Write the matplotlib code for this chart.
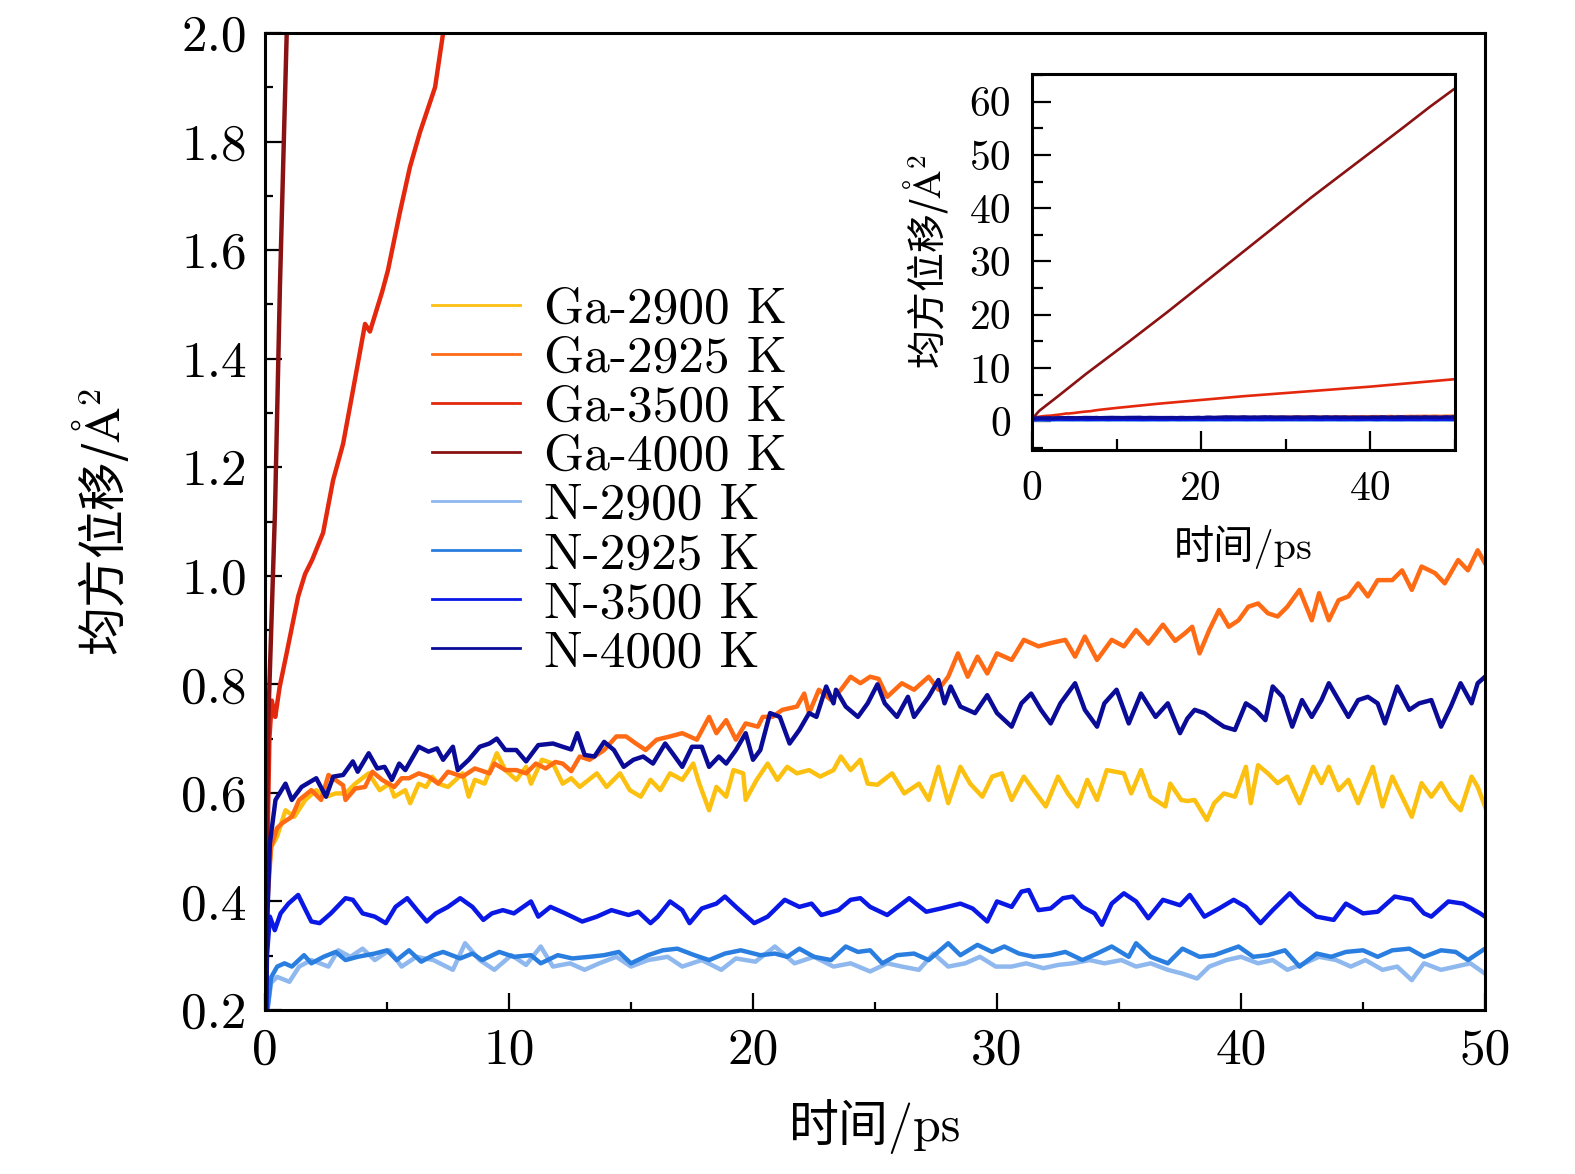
"""Mean square displacement of Ga and N atoms at several temperatures."""

import numpy as np
import matplotlib
matplotlib.use("Agg")
import matplotlib.pyplot as plt
from matplotlib.ticker import MultipleLocator, FormatStrFormatter

plt.rcParams["font.family"] = ["cmr10", "DejaVu Serif", "Noto Sans CJK SC"]
plt.rcParams["axes.unicode_minus"] = False
plt.rcParams["mathtext.fontset"] = "cm"

# (time / ps, MSD / A^2)
GA2900 = [(0, 0.0), (0.1, 0.42), (0.25, 0.5), (0.49, 0.519), (0.84, 0.568), (1.2, 0.556), (1.65, 0.587),
          (2.1, 0.605), (2.5, 0.593), (2.9, 0.599), (3.3, 0.599), (3.7, 0.617), (4.25, 0.636), (4.7, 0.605),
          (5.1, 0.617), (5.3, 0.593), (5.75, 0.605), (5.95, 0.581), (6.3, 0.617), (6.6, 0.611), (6.85, 0.63),
          (7.1, 0.617), (7.5, 0.611), (8.1, 0.636), (8.35, 0.593), (8.6, 0.624), (9.0, 0.617), (9.5, 0.673),
          (9.85, 0.642), (10.3, 0.624), (10.7, 0.648), (10.9, 0.617), (11.35, 0.661), (11.8, 0.654),
          (12.2, 0.617), (12.55, 0.627), (12.9, 0.611), (13.6, 0.636), (14.0, 0.611), (14.55, 0.636),
          (14.95, 0.605), (15.4, 0.593), (15.8, 0.624), (16.2, 0.605), (16.6, 0.636), (17.1, 0.624),
          (17.55, 0.654), (17.8, 0.617), (18.2, 0.568), (18.5, 0.611), (18.9, 0.593), (19.2, 0.642),
          (19.6, 0.636), (19.7, 0.587), (20.15, 0.624), (20.6, 0.654), (21.0, 0.624), (21.4, 0.648),
          (21.8, 0.636), (22.3, 0.642), (22.75, 0.63), (23.3, 0.642), (23.6, 0.667), (24.0, 0.642),
          (24.4, 0.661), (24.7, 0.617), (25.1, 0.615), (25.7, 0.636), (26.2, 0.599), (26.8, 0.617),
          (27.2, 0.587), (27.6, 0.648), (28.0, 0.581), (28.5, 0.648), (28.9, 0.617), (29.4, 0.593),
          (29.8, 0.63), (30.2, 0.636), (30.6, 0.587), (31.1, 0.63), (31.5, 0.605), (32.0, 0.575),
          (32.5, 0.63), (32.9, 0.599), (33.3, 0.575), (33.7, 0.624), (34.1, 0.587), (34.5, 0.642),
          (35.2, 0.636), (35.5, 0.599), (35.9, 0.642), (36.3, 0.593), (36.9, 0.575), (37.1, 0.617),
          (37.55, 0.587), (37.8, 0.585), (38.1, 0.587), (38.6, 0.55), (38.9, 0.581), (39.3, 0.599),
          (39.75, 0.593), (40.2, 0.648), (40.4, 0.581), (40.7, 0.651), (41.1, 0.636), (41.5, 0.618),
          (41.9, 0.63), (42.4, 0.581), (42.96, 0.648), (43.3, 0.618), (43.6, 0.648), (44.0, 0.605),
          (44.4, 0.624), (44.8, 0.581), (45.4, 0.648), (45.8, 0.575), (46.2, 0.63), (46.6, 0.593),
          (47.0, 0.556), (47.4, 0.618), (47.8, 0.593), (48.2, 0.618), (48.6, 0.587), (49.0, 0.568),
          (49.45, 0.63), (49.7, 0.611), (50.0, 0.575)]

GA2925 = [(0, 0.0), (0.1, 0.4), (0.25, 0.5), (0.49, 0.535), (0.7, 0.544), (1.1, 0.556), (1.4, 0.587),
          (1.9, 0.605), (2.3, 0.587), (2.6, 0.633), (3.2, 0.614), (3.3, 0.587), (3.7, 0.608), (4.1, 0.611),
          (4.4, 0.639), (4.8, 0.624), (5.3, 0.611), (5.6, 0.627), (5.9, 0.627), (6.3, 0.636), (6.7, 0.63),
          (7.1, 0.617), (7.5, 0.639), (8.1, 0.63), (8.6, 0.645), (9.2, 0.636), (9.4, 0.654), (9.85, 0.642),
          (10.3, 0.642), (10.7, 0.636), (11.1, 0.654), (11.5, 0.645), (11.9, 0.657), (12.2, 0.654),
          (12.55, 0.64), (12.9, 0.667), (13.3, 0.661), (13.9, 0.679), (14.4, 0.704), (14.8, 0.704),
          (15.2, 0.691), (15.6, 0.679), (16.05, 0.698), (16.6, 0.704), (17.1, 0.71), (17.7, 0.698),
          (18.2, 0.74), (18.5, 0.71), (18.9, 0.734), (19.3, 0.698), (19.7, 0.728), (20.2, 0.722),
          (20.4, 0.74), (20.8, 0.74), (21.2, 0.753), (21.8, 0.759), (22.1, 0.783), (22.3, 0.747),
          (22.7, 0.79), (23.2, 0.771), (23.6, 0.79), (24.0, 0.814), (24.4, 0.802), (24.8, 0.814),
          (25.15, 0.81), (25.5, 0.777), (26.1, 0.802), (26.6, 0.79), (27.2, 0.814), (27.6, 0.79),
          (28.0, 0.814), (28.4, 0.857), (28.8, 0.814), (29.2, 0.851), (29.6, 0.82), (30.0, 0.857),
          (30.6, 0.845), (31.1, 0.882), (31.7, 0.87), (32.2, 0.876), (32.8, 0.882), (33.2, 0.851),
          (33.6, 0.888), (34.1, 0.845), (34.7, 0.882), (35.2, 0.87), (35.7, 0.9), (36.2, 0.875),
          (36.8, 0.91), (37.3, 0.88), (37.7, 0.894), (38.0, 0.906), (38.3, 0.857), (38.7, 0.9),
          (39.1, 0.937), (39.5, 0.906), (39.9, 0.918), (40.3, 0.943), (40.7, 0.949), (41.1, 0.931),
          (41.5, 0.925), (41.9, 0.943), (42.4, 0.974), (42.9, 0.918), (43.2, 0.968), (43.6, 0.918),
          (44.0, 0.955), (44.4, 0.962), (44.8, 0.986), (45.2, 0.962), (45.6, 0.992), (46.2, 0.992),
          (46.6, 1.01), (47.0, 0.974), (47.4, 1.017), (47.95, 1.005), (48.35, 0.986), (48.9, 1.029),
          (49.3, 1.01), (49.7, 1.047), (50.0, 1.023)]

GA3500 = [(0, 0.0), (0.08, 0.45), (0.18, 0.7), (0.28, 0.77), (0.36, 0.75), (0.42, 0.74), (0.6, 0.795),
          (0.89, 0.858), (1.16, 0.918), (1.36, 0.962), (1.64, 1.003), (1.93, 1.029), (2.38, 1.079),
          (2.79, 1.176), (3.2, 1.243), (3.57, 1.333), (4.1, 1.464), (4.3, 1.45), (4.8, 1.523),
          (5.04, 1.563), (5.53, 1.67), (5.94, 1.753), (6.35, 1.817), (6.97, 1.9), (7.3, 2.0), (8.0, 2.15),
          (10, 2.5), (15, 3.3), (20, 4.0), (25, 4.7), (30, 5.3), (35, 5.9), (40, 6.5), (45, 7.2),
          (50, 7.9)]

GA4000 = [(0, 0.0), (0.05, 0.45), (0.14, 0.74), (0.41, 1.12), (0.61, 1.53), (0.89, 2.0), (3, 4.6),
          (6.4, 8.9), (11.5, 15.0), (16, 20.5), (19.8, 25.3), (24, 30.6), (28.9, 36.8), (33, 42.0),
          (37.8, 47.8), (40.7, 51.3), (44, 55.3), (47, 59.0), (50, 62.5)]

N2900 = [(0, 0.0), (0.1, 0.2), (0.25, 0.25), (0.5, 0.261), (1.0, 0.252), (1.4, 0.28), (1.9, 0.292),
         (2.6, 0.28), (3.0, 0.31), (3.5, 0.298), (4.0, 0.313), (4.5, 0.292), (5.1, 0.31), (5.6, 0.28),
         (6.2, 0.298), (6.9, 0.292), (7.7, 0.274), (8.2, 0.323), (8.8, 0.292), (9.4, 0.274), (10.1, 0.301),
         (10.7, 0.283), (11.3, 0.317), (11.8, 0.28), (12.5, 0.286), (13.1, 0.274), (13.7, 0.286),
         (14.4, 0.298), (15.0, 0.28), (15.7, 0.292), (16.5, 0.298), (17.1, 0.28), (17.9, 0.292),
         (18.7, 0.274), (19.3, 0.295), (20.1, 0.289), (20.9, 0.317), (21.7, 0.286), (22.5, 0.298),
         (23.3, 0.28), (24.0, 0.286), (24.8, 0.271), (25.5, 0.286), (26.1, 0.28), (26.8, 0.274),
         (27.4, 0.304), (28.0, 0.28), (28.7, 0.286), (29.3, 0.298), (29.95, 0.28), (30.6, 0.28),
         (31.2, 0.286), (31.9, 0.277), (32.5, 0.283), (33.1, 0.286), (33.8, 0.292), (34.4, 0.286),
         (35.1, 0.292), (35.7, 0.28), (36.3, 0.286), (37.0, 0.274), (37.6, 0.267), (38.2, 0.258),
         (38.7, 0.28), (39.4, 0.292), (40.0, 0.298), (40.7, 0.286), (41.3, 0.292), (41.9, 0.274),
         (42.6, 0.286), (43.2, 0.298), (43.9, 0.292), (44.5, 0.28), (45.1, 0.292), (45.8, 0.274),
         (46.4, 0.28), (47.0, 0.255), (47.5, 0.286), (48.2, 0.274), (48.8, 0.28), (49.4, 0.286),
         (50.0, 0.267)]

N2925 = [(0, 0.0), (0.1, 0.2), (0.25, 0.26), (0.5, 0.28), (0.8, 0.286), (1.1, 0.28), (1.6, 0.301),
         (1.9, 0.286), (2.4, 0.298), (2.9, 0.307), (3.3, 0.292), (3.8, 0.298), (4.5, 0.304), (5.0, 0.31),
         (5.4, 0.292), (5.9, 0.31), (6.4, 0.289), (6.9, 0.301), (7.3, 0.307), (8.0, 0.295), (8.5, 0.304),
         (8.9, 0.292), (9.6, 0.307), (10.2, 0.298), (10.9, 0.301), (11.3, 0.286), (12.0, 0.301),
         (12.6, 0.295), (13.3, 0.298), (13.9, 0.301), (14.5, 0.307), (15.0, 0.286), (15.7, 0.301),
         (16.3, 0.31), (16.9, 0.313), (17.6, 0.301), (18.2, 0.292), (18.85, 0.304), (19.5, 0.31),
         (20.3, 0.301), (20.9, 0.304), (21.4, 0.298), (21.9, 0.313), (22.5, 0.298), (23.2, 0.292),
         (23.8, 0.317), (24.3, 0.307), (24.8, 0.31), (25.3, 0.286), (25.9, 0.301), (26.6, 0.304),
         (27.2, 0.292), (28.0, 0.323), (28.5, 0.301), (29.2, 0.32), (29.8, 0.307), (30.3, 0.317),
         (30.9, 0.304), (31.5, 0.298), (32.2, 0.301), (32.8, 0.307), (33.5, 0.292), (34.1, 0.304),
         (34.7, 0.317), (35.4, 0.298), (35.7, 0.323), (36.3, 0.298), (37.0, 0.286), (37.6, 0.313),
         (38.3, 0.298), (38.9, 0.301), (39.9, 0.317), (40.5, 0.298), (41.1, 0.301), (41.8, 0.31),
         (42.4, 0.28), (43.1, 0.304), (43.7, 0.298), (44.3, 0.307), (45.0, 0.31), (45.6, 0.298),
         (46.2, 0.31), (46.9, 0.313), (47.5, 0.298), (48.2, 0.31), (48.8, 0.307), (49.3, 0.292),
         (50.0, 0.313)]

N3500 = [(0, 0.0), (0.08, 0.3), (0.2, 0.372), (0.4, 0.347), (0.64, 0.378), (0.96, 0.396), (1.36, 0.412),
         (1.6, 0.39), (1.9, 0.363), (2.24, 0.36), (2.7, 0.378), (3.3, 0.406), (3.6, 0.403), (4.0, 0.378),
         (4.5, 0.372), (4.95, 0.36), (5.35, 0.39), (5.83, 0.406), (6.23, 0.384), (6.63, 0.363),
         (7.0, 0.378), (7.5, 0.39), (8.0, 0.406), (8.5, 0.39), (8.95, 0.366), (9.3, 0.378), (9.75, 0.384),
         (10.2, 0.378), (10.9, 0.4), (11.2, 0.372), (11.7, 0.39), (12.3, 0.378), (13.0, 0.363),
         (13.6, 0.372), (14.2, 0.384), (14.9, 0.375), (15.3, 0.381), (15.8, 0.36), (16.1, 0.372),
         (16.6, 0.4), (17.1, 0.384), (17.4, 0.36), (17.9, 0.387), (18.5, 0.396), (18.85, 0.409),
         (19.3, 0.39), (20.05, 0.36), (20.6, 0.372), (21.3, 0.403), (21.9, 0.39), (22.4, 0.396),
         (22.8, 0.375), (23.5, 0.384), (24.0, 0.403), (24.4, 0.406), (24.8, 0.39), (25.5, 0.375),
         (26.4, 0.406), (27.1, 0.381), (27.7, 0.387), (28.5, 0.396), (29.0, 0.387), (29.6, 0.363),
         (30.0, 0.4), (30.6, 0.39), (31.0, 0.418), (31.3, 0.421), (31.7, 0.384), (32.2, 0.387),
         (32.7, 0.406), (33.1, 0.409), (33.5, 0.39), (34.0, 0.378), (34.3, 0.357), (34.7, 0.396),
         (35.2, 0.415), (35.7, 0.4), (36.2, 0.369), (36.8, 0.403), (37.5, 0.393), (37.9, 0.412),
         (38.5, 0.372), (39.1, 0.387), (39.7, 0.403), (40.2, 0.39), (40.8, 0.36), (41.3, 0.384),
         (42.0, 0.415), (42.4, 0.396), (43.1, 0.372), (43.8, 0.366), (44.3, 0.396), (45.0, 0.378),
         (45.6, 0.381), (46.3, 0.409), (47.0, 0.403), (47.5, 0.378), (47.8, 0.372), (48.5, 0.4),
         (49.1, 0.396), (49.8, 0.378), (50.0, 0.372)]

N4000 = [(0, 0.0), (0.08, 0.35), (0.2, 0.507), (0.43, 0.587), (0.84, 0.617), (1.1, 0.587), (1.5, 0.611),
         (2.1, 0.627), (2.5, 0.593), (2.8, 0.63), (3.2, 0.633), (3.6, 0.658), (3.8, 0.639), (4.25, 0.673),
         (4.6, 0.645), (4.9, 0.648), (5.2, 0.624), (5.5, 0.654), (5.75, 0.642), (6.3, 0.685), (6.7, 0.676),
         (7.05, 0.682), (7.3, 0.661), (7.7, 0.685), (7.9, 0.642), (8.35, 0.661), (8.8, 0.685), (9.2, 0.691),
         (9.5, 0.7), (9.85, 0.679), (10.3, 0.679), (10.7, 0.658), (11.2, 0.688), (11.8, 0.691),
         (12.2, 0.685), (12.55, 0.68), (12.8, 0.71), (13.1, 0.67), (13.5, 0.667), (13.9, 0.694),
         (14.3, 0.679), (14.7, 0.648), (15.1, 0.661), (15.5, 0.667), (15.9, 0.654), (16.4, 0.691),
         (16.7, 0.673), (17.1, 0.648), (17.5, 0.685), (17.9, 0.685), (18.2, 0.648), (18.6, 0.667),
         (18.9, 0.654), (19.3, 0.679), (19.7, 0.71), (20.0, 0.661), (20.3, 0.679), (20.7, 0.747),
         (21.1, 0.74), (21.5, 0.691), (21.9, 0.716), (22.3, 0.747), (22.6, 0.74), (23.0, 0.796),
         (23.3, 0.765), (23.4, 0.79), (23.8, 0.759), (24.3, 0.74), (24.7, 0.765), (25.1, 0.8),
         (25.4, 0.765), (25.9, 0.74), (26.35, 0.777), (26.6, 0.74), (27.2, 0.777), (27.6, 0.808),
         (27.85, 0.765), (28.1, 0.796), (28.5, 0.759), (29.1, 0.747), (29.6, 0.78), (30.0, 0.747),
         (30.6, 0.722), (31.0, 0.765), (31.4, 0.783), (31.8, 0.753), (32.2, 0.728), (32.6, 0.765),
         (33.2, 0.802), (33.6, 0.753), (34.1, 0.722), (34.4, 0.765), (34.9, 0.79), (35.4, 0.728),
         (35.9, 0.783), (36.5, 0.74), (37.0, 0.765), (37.5, 0.71), (37.8, 0.737), (38.1, 0.753),
         (38.5, 0.747), (38.9, 0.734), (39.3, 0.722), (39.75, 0.716), (40.2, 0.765), (40.6, 0.753),
         (41.0, 0.734), (41.3, 0.796), (41.7, 0.777), (42.1, 0.722), (42.5, 0.771), (42.9, 0.74),
         (43.3, 0.771), (43.6, 0.802), (44.0, 0.771), (44.4, 0.74), (44.8, 0.771), (45.2, 0.777),
         (45.6, 0.765), (45.9, 0.728), (46.4, 0.796), (46.9, 0.753), (47.3, 0.765), (47.8, 0.771),
         (48.2, 0.722), (48.6, 0.759), (49.0, 0.802), (49.45, 0.765), (49.7, 0.802), (50.0, 0.814)]

labels = ["Ga-2900 K", "Ga-2925 K", "Ga-3500 K", "Ga-4000 K",
          "N-2900 K", "N-2925 K", "N-3500 K", "N-4000 K"]
series = [GA2900, GA2925, GA3500, GA4000, N2900, N2925, N3500, N4000]
colors = ["#FCC010", "#FF6A14", "#E4280E", "#8A1212",
          "#8EB8EE", "#2A7EE0", "#0A18E6", "#0A0C98"]

W, H = 1575, 1174
fig = plt.figure(figsize=(W / 100, H / 100), dpi=100)
ax = fig.add_axes([265 / W, 1 - 1010 / H, 1220 / W, 977 / H])
ins = fig.add_axes([1032 / W, 1 - 450 / H, 423 / W, 376 / H])

for data, lab, c in zip(series, labels, colors):
    t, v = np.array(data).T
    ax.plot(t, v, color=c, lw=3.2, label=lab)
    ins.plot(t, v, color=c, lw=2.6 if lab.startswith("N") else 1.9)

# y label: CJK text in Noto, the unit in Computer Modern math
ylab = r"均方位移/$\mathrm{\AA}^2$"

# main axes
ax.set_xlim(0, 50)
ax.set_ylim(0.2, 2.0)
ax.xaxis.set_major_locator(MultipleLocator(10))
ax.xaxis.set_minor_locator(MultipleLocator(5))
ax.yaxis.set_major_locator(MultipleLocator(0.2))
ax.yaxis.set_minor_locator(MultipleLocator(0.1))
ax.yaxis.set_major_formatter(FormatStrFormatter("%.1f"))
ax.tick_params(which="both", direction="in", top=False, right=False, width=1.6,
               labelsize=37, pad=13)
ax.tick_params(which="major", length=12)
ax.tick_params(which="minor", length=6)
for s in ax.spines.values():
    s.set_linewidth(2.2)
ax.set_xlabel("时间/ps", fontsize=36, labelpad=18)
ax.set_ylabel(ylab, fontsize=35, labelpad=36, family="Noto Sans CJK SC")

leg = ax.legend(loc="upper left", bbox_to_anchor=(432 / W, 1 - 287 / H),
                bbox_transform=fig.transFigure, frameon=False, fontsize=37,
                handlelength=1.72, handletextpad=0.46, labelspacing=0.06,
                borderpad=0, borderaxespad=0)
for ln in leg.get_lines():
    ln.set_linewidth(2.0)

# inset
ins.set_xlim(0, 50)
ins.set_ylim(-5.4, 65.2)
ins.xaxis.set_major_locator(MultipleLocator(20))
ins.xaxis.set_minor_locator(MultipleLocator(10))
ins.yaxis.set_major_locator(MultipleLocator(10))
ins.yaxis.set_minor_locator(MultipleLocator(5))
ins.tick_params(which="both", direction="in", top=False, right=False, width=1.6,
                labelsize=30, pad=15)
ins.tick_params(which="major", length=14)
ins.tick_params(which="minor", length=8)
for s in ins.spines.values():
    s.set_linewidth(2.2)
ins.set_xlabel("时间/ps", fontsize=29, labelpad=12)
ins.set_ylabel(ylab, fontsize=28, labelpad=14, family="Noto Sans CJK SC")

fig.savefig("out.png", dpi=100)
